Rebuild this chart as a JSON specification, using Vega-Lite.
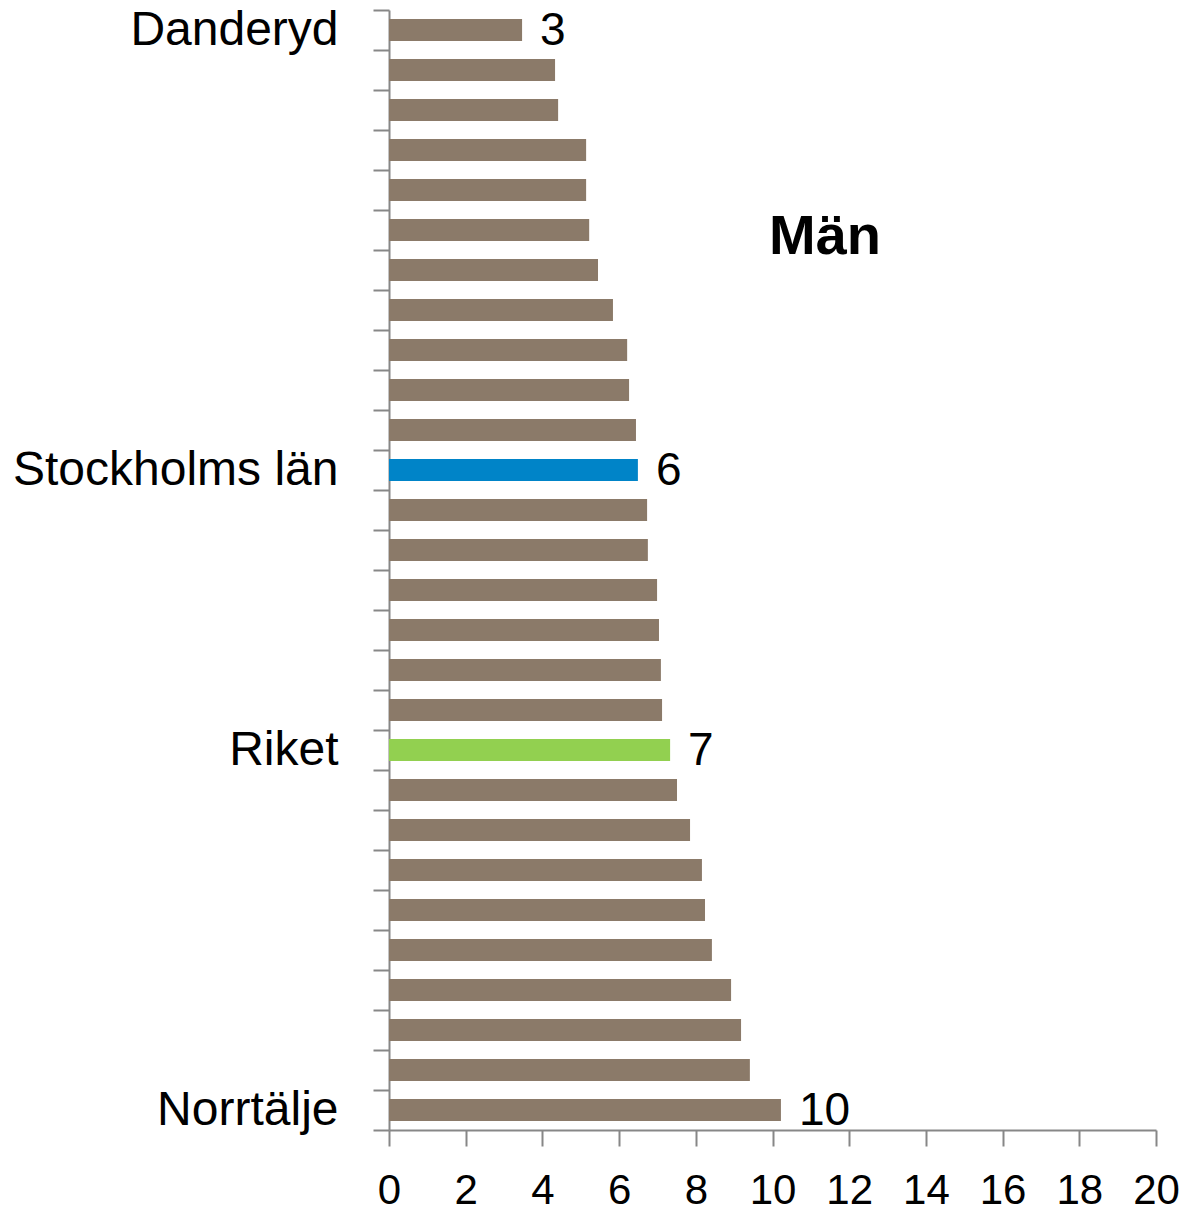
{
  "$schema": "https://vega.github.io/schema/vega-lite/v6.json",
  "width": 767,
  "height": 1120,
  "autosize": "none",
  "padding": {"left": 389, "top": 10, "right": 32, "bottom": 85},
  "config": {"view": {"stroke": null}, "font": "Liberation Sans"},
  "data": {
    "values": [
      {"namn": "Danderyd", "varde": 3.47, "typ": "kommun", "visa": true},
      {"namn": "Kommun 2", "varde": 4.33, "typ": "kommun", "visa": false},
      {"namn": "Kommun 3", "varde": 4.41, "typ": "kommun", "visa": false},
      {"namn": "Kommun 4", "varde": 5.14, "typ": "kommun", "visa": false},
      {"namn": "Kommun 5", "varde": 5.14, "typ": "kommun", "visa": false},
      {"namn": "Kommun 6", "varde": 5.22, "typ": "kommun", "visa": false},
      {"namn": "Kommun 7", "varde": 5.45, "typ": "kommun", "visa": false},
      {"namn": "Kommun 8", "varde": 5.84, "typ": "kommun", "visa": false},
      {"namn": "Kommun 9", "varde": 6.21, "typ": "kommun", "visa": false},
      {"namn": "Kommun 10", "varde": 6.26, "typ": "kommun", "visa": false},
      {"namn": "Kommun 11", "varde": 6.44, "typ": "kommun", "visa": false},
      {"namn": "Stockholms län", "varde": 6.49, "typ": "lan", "visa": true},
      {"namn": "Kommun 13", "varde": 6.73, "typ": "kommun", "visa": false},
      {"namn": "Kommun 14", "varde": 6.75, "typ": "kommun", "visa": false},
      {"namn": "Kommun 15", "varde": 6.99, "typ": "kommun", "visa": false},
      {"namn": "Kommun 16", "varde": 7.04, "typ": "kommun", "visa": false},
      {"namn": "Kommun 17", "varde": 7.09, "typ": "kommun", "visa": false},
      {"namn": "Kommun 18", "varde": 7.12, "typ": "kommun", "visa": false},
      {"namn": "Riket", "varde": 7.33, "typ": "riket", "visa": true},
      {"namn": "Kommun 20", "varde": 7.51, "typ": "kommun", "visa": false},
      {"namn": "Kommun 21", "varde": 7.85, "typ": "kommun", "visa": false},
      {"namn": "Kommun 22", "varde": 8.16, "typ": "kommun", "visa": false},
      {"namn": "Kommun 23", "varde": 8.24, "typ": "kommun", "visa": false},
      {"namn": "Kommun 24", "varde": 8.42, "typ": "kommun", "visa": false},
      {"namn": "Kommun 25", "varde": 8.92, "typ": "kommun", "visa": false},
      {"namn": "Kommun 26", "varde": 9.18, "typ": "kommun", "visa": false},
      {"namn": "Kommun 27", "varde": 9.41, "typ": "kommun", "visa": false},
      {"namn": "Norrtälje", "varde": 10.22, "typ": "kommun", "visa": true}
    ]
  },
  "encoding": {
    "y": {
      "field": "namn",
      "type": "nominal",
      "sort": null,
      "scale": {"paddingInner": 0, "paddingOuter": 0},
      "axis": {
        "title": null,
        "tickBand": "extent",
        "tickSize": 16,
        "tickWidth": 2,
        "tickColor": "#878787",
        "domainColor": "#878787",
        "domainWidth": 2,
        "labelPadding": 35,
        "labelFontSize": 48,
        "labelColor": "#000000",
        "labelLimit": 0,
        "labelOverlap": false,
        "labelBound": false,
        "labelExpr": "(datum.value == 'Danderyd' || datum.value == 'Stockholms län' || datum.value == 'Riket' || datum.value == 'Norrtälje') ? datum.value : ''"
      }
    }
  },
  "layer": [
    {
      "mark": {"type": "bar", "height": {"band": 0.55}},
      "encoding": {
        "x": {
          "field": "varde",
          "type": "quantitative",
          "scale": {"domain": [0, 20], "nice": false},
          "axis": {
            "title": null,
            "grid": false,
            "values": [0, 2, 4, 6, 8, 10, 12, 14, 16, 18, 20],
            "tickSize": 16,
            "tickWidth": 2,
            "tickColor": "#878787",
            "domainColor": "#878787",
            "domainWidth": 2,
            "labelFontSize": 42,
            "labelColor": "#000000",
            "labelPadding": 24,
            "labelFlush": false,
            "labelOverlap": false
          }
        },
        "color": {
          "field": "typ",
          "type": "nominal",
          "scale": {"domain": ["kommun", "lan", "riket"], "range": ["#8B7A69", "#0084C8", "#92D050"]},
          "legend": null
        }
      }
    },
    {
      "transform": [{"filter": "datum.visa"}],
      "mark": {"type": "text", "align": "left", "baseline": "middle", "dx": 18, "dy": 1, "fontSize": 46, "color": "#000000"},
      "encoding": {
        "x": {"field": "varde", "type": "quantitative"},
        "text": {"field": "varde", "type": "quantitative", "format": ".0f"}
      }
    },
    {
      "transform": [{"filter": "datum.namn == 'Kommun 6'"}],
      "mark": {"type": "text", "align": "center", "baseline": "middle", "dy": 7, "fontSize": 56, "fontWeight": "bold", "color": "#000000"},
      "encoding": {
        "x": {"datum": 11.37, "type": "quantitative"},
        "text": {"value": "Män"}
      }
    }
  ]
}
